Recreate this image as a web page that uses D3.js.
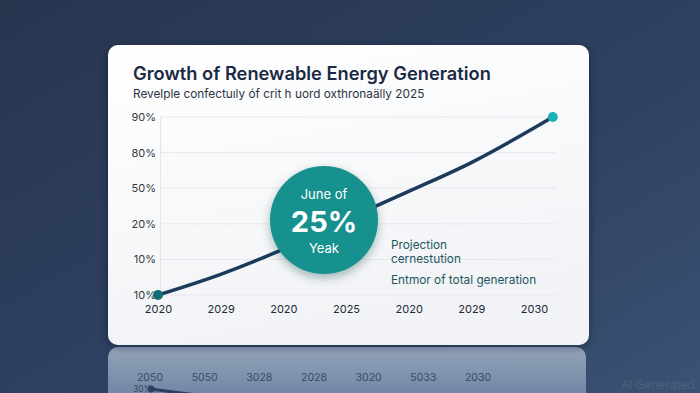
<!DOCTYPE html>
<html><head><meta charset="utf-8">
<script src="https://cdn.jsdelivr.net/npm/d3@7"></script>
<style>html,body{margin:0;padding:0;background:#2b3b58;overflow:hidden}</style>
</head><body>
<script>
// ---- data ----
const title = "Growth of Renewable Energy Generation";
const subtitle = "Revelple confectuıly óf crit h uord oxthronaälly 2025";
const yTickLabels = ["10%", "10%", "20%", "50%", "80%", "90%"]; // bottom to top
const xTickLabels = ["2020", "2029", "2020", "2025", "2020", "2029", "2030"];
const linePeriods = [0, 1, 2, 3, 4, 5, 6, 6.3];          // position along x (tick index units)
const lineValues  = [0, 0.58, 1.29, 2.12, 2.91, 3.72, 4.69, 5.0]; // position along y (tick index units)
const badgeLines = ["June of", "25%", "Yeak"];
const noteLines = ["Projection", "cernestution", "Entmor of total generation"];
const reflectLabels = ["2050", "5050", "3028", "2028", "3020", "5033", "2030"];
const watermark = "AI Generated";

const W = 700, H = 393;
const FONT = "Inter, 'Open Sans', sans-serif";
const svg = d3.select("body").append("svg").attr("width", W).attr("height", H);
const defs = svg.append("defs");

const bg = defs.append("linearGradient").attr("id","bg").attr("x1","0").attr("y1","0").attr("x2","1").attr("y2","1");
bg.append("stop").attr("offset","0").attr("stop-color","#27354f");
bg.append("stop").attr("offset","0.6").attr("stop-color","#2f4262");
bg.append("stop").attr("offset","1").attr("stop-color","#3b5274");
svg.append("rect").attr("width",W).attr("height",H).attr("fill","url(#bg)");

const cg = defs.append("linearGradient").attr("id","card").attr("x1","0").attr("y1","0").attr("x2","0.3").attr("y2","1");
cg.append("stop").attr("offset","0").attr("stop-color","#ffffff");
cg.append("stop").attr("offset","1").attr("stop-color","#f1f3f6");

const rg = defs.append("linearGradient").attr("id","refl").attr("x1","0").attr("y1","0").attr("x2","0").attr("y2","1");
rg.append("stop").attr("offset","0").attr("stop-color","#93a3b9");
rg.append("stop").attr("offset","1").attr("stop-color","#6a7e9e");

const sh = defs.append("filter").attr("id","sh").attr("x","-20%").attr("y","-20%").attr("width","140%").attr("height","140%");
sh.append("feDropShadow").attr("dx",0).attr("dy",2).attr("stdDeviation",4).attr("flood-color","#0c1526").attr("flood-opacity",0.45);
const bsh = defs.append("filter").attr("id","bsh").attr("x","-30%").attr("y","-30%").attr("width","160%").attr("height","160%");
bsh.append("feDropShadow").attr("dx",0).attr("dy",4).attr("stdDeviation",5).attr("flood-color","#0a3a3a").attr("flood-opacity",0.35);

// reflection
const cardX = 108, cardY = 45, cardW = 481, cardH = 300;
svg.append("rect").attr("x",cardX).attr("y",347).attr("width",cardW-3).attr("height",60).attr("rx",10).attr("fill","url(#refl)");

// card
svg.append("rect").attr("x",cardX).attr("y",cardY).attr("width",cardW).attr("height",cardH).attr("rx",10)
  .attr("fill","url(#card)").attr("filter","url(#sh)");

svg.append("text").attr("x",133).attr("y",80).text(title)
  .attr("font-family",FONT).attr("font-weight",600).attr("font-size",18.3).attr("fill","#1b2a44");
svg.append("text").attr("x",133).attr("y",98).text(subtitle)
  .attr("font-family",FONT).attr("font-size",11.8).attr("fill","#2b3444");

// scales
const x = d3.scaleLinear().domain([0, xTickLabels.length-1]).range([158, 534]);
const y = d3.scaleLinear().domain([0, yTickLabels.length-1]).range([295, 117]);

// grid
const g = svg.append("g");
g.selectAll("line.grid").data(yTickLabels).join("line").attr("class","grid")
  .attr("x1",160).attr("x2",556).attr("y1",(d,i)=>y(i)).attr("y2",(d,i)=>y(i))
  .attr("stroke","#e6e8ec").attr("stroke-width",1);
g.append("line").attr("x1",160.5).attr("x2",160.5).attr("y1",y(yTickLabels.length-1)).attr("y2",y(0))
  .attr("stroke","#e3e5e9");

// y axis labels
const yAxis = d3.axisLeft(y).tickValues(d3.range(yTickLabels.length)).tickFormat(i=>yTickLabels[i]).tickSize(0).tickPadding(4);
const ya = svg.append("g").attr("transform","translate(160,0)").call(yAxis);
ya.select(".domain").remove();
ya.selectAll("text").attr("font-family",FONT).attr("font-size",11).attr("fill","#333a45");

// x axis labels
const xAxis = d3.axisBottom(x).tickValues(d3.range(xTickLabels.length)).tickFormat(i=>xTickLabels[i]).tickSize(0).tickPadding(0);
const xa = svg.append("g").attr("transform","translate(0,305)").call(xAxis);
xa.select(".domain").remove();
xa.selectAll("text").attr("font-family",FONT).attr("font-size",11).attr("fill","#222a35");

// line
const pts = linePeriods.map((p,i)=>[p, lineValues[i]]);
const line = d3.line().x(d=>x(d[0])).y(d=>y(d[1])).curve(d3.curveMonotoneX);
svg.append("path").attr("d",line(pts)).attr("fill","none").attr("stroke","#1b3a5c").attr("stroke-width",3.5).attr("stroke-linecap","round");
svg.append("circle").attr("cx",x(pts[0][0])).attr("cy",y(pts[0][1])).attr("r",5).attr("fill","#0f6f74");
svg.append("circle").attr("cx",x(pts[pts.length-1][0])).attr("cy",y(pts[pts.length-1][1])).attr("r",5).attr("fill","#19b3b6");

// badge
const bx = 324, by = 220;
svg.append("circle").attr("cx",bx).attr("cy",by).attr("r",54).attr("fill","#17918d").attr("filter","url(#bsh)");
svg.append("text").attr("x",bx).attr("y",199).attr("text-anchor","middle").text(badgeLines[0])
  .attr("font-family",FONT).attr("font-size",13).attr("fill","#ffffff");
svg.append("text").attr("x",bx).attr("y",232).attr("text-anchor","middle").text(badgeLines[1])
  .attr("font-family",FONT).attr("font-weight",700).attr("font-size",29).attr("fill","#ffffff");
svg.append("text").attr("x",bx).attr("y",253).attr("text-anchor","middle").text(badgeLines[2])
  .attr("font-family",FONT).attr("font-size",13).attr("fill","#ffffff");

// notes
const noteY = [249, 263, 284];
svg.selectAll("text.note").data(noteLines).join("text").attr("class","note")
  .attr("x",391).attr("y",(d,i)=>noteY[i]).text(d=>d)
  .attr("font-family",FONT).attr("font-size",11.8).attr("fill","#1e5660");

// reflection details
const xr = d3.scaleLinear().domain([0, reflectLabels.length-1]).range([150, 478]);
svg.selectAll("text.refl").data(reflectLabels).join("text").attr("class","refl")
  .attr("x",(d,i)=>xr(i)).attr("y",381).attr("text-anchor","middle").text(d=>d)
  .attr("font-family",FONT).attr("font-size",10.5).attr("fill","#3a4a66");
svg.append("path").attr("d",`M${xr(0)},389 L${xr(0)+55},396`).attr("stroke","#2c3f60").attr("stroke-width",3);
svg.append("circle").attr("cx",xr(0)+1).attr("cy",389).attr("r",3.5).attr("fill","#2c3f60");
svg.append("text").attr("x",133).attr("y",392).text("30%")
  .attr("font-family",FONT).attr("font-size",8.5).attr("fill","#3a4a66");

svg.append("text").attr("x",695).attr("y",389).attr("text-anchor","end").text(watermark)
  .attr("font-family","'Open Sans', sans-serif").attr("font-size",12).attr("fill","#51617e");
</script>
</body></html>
